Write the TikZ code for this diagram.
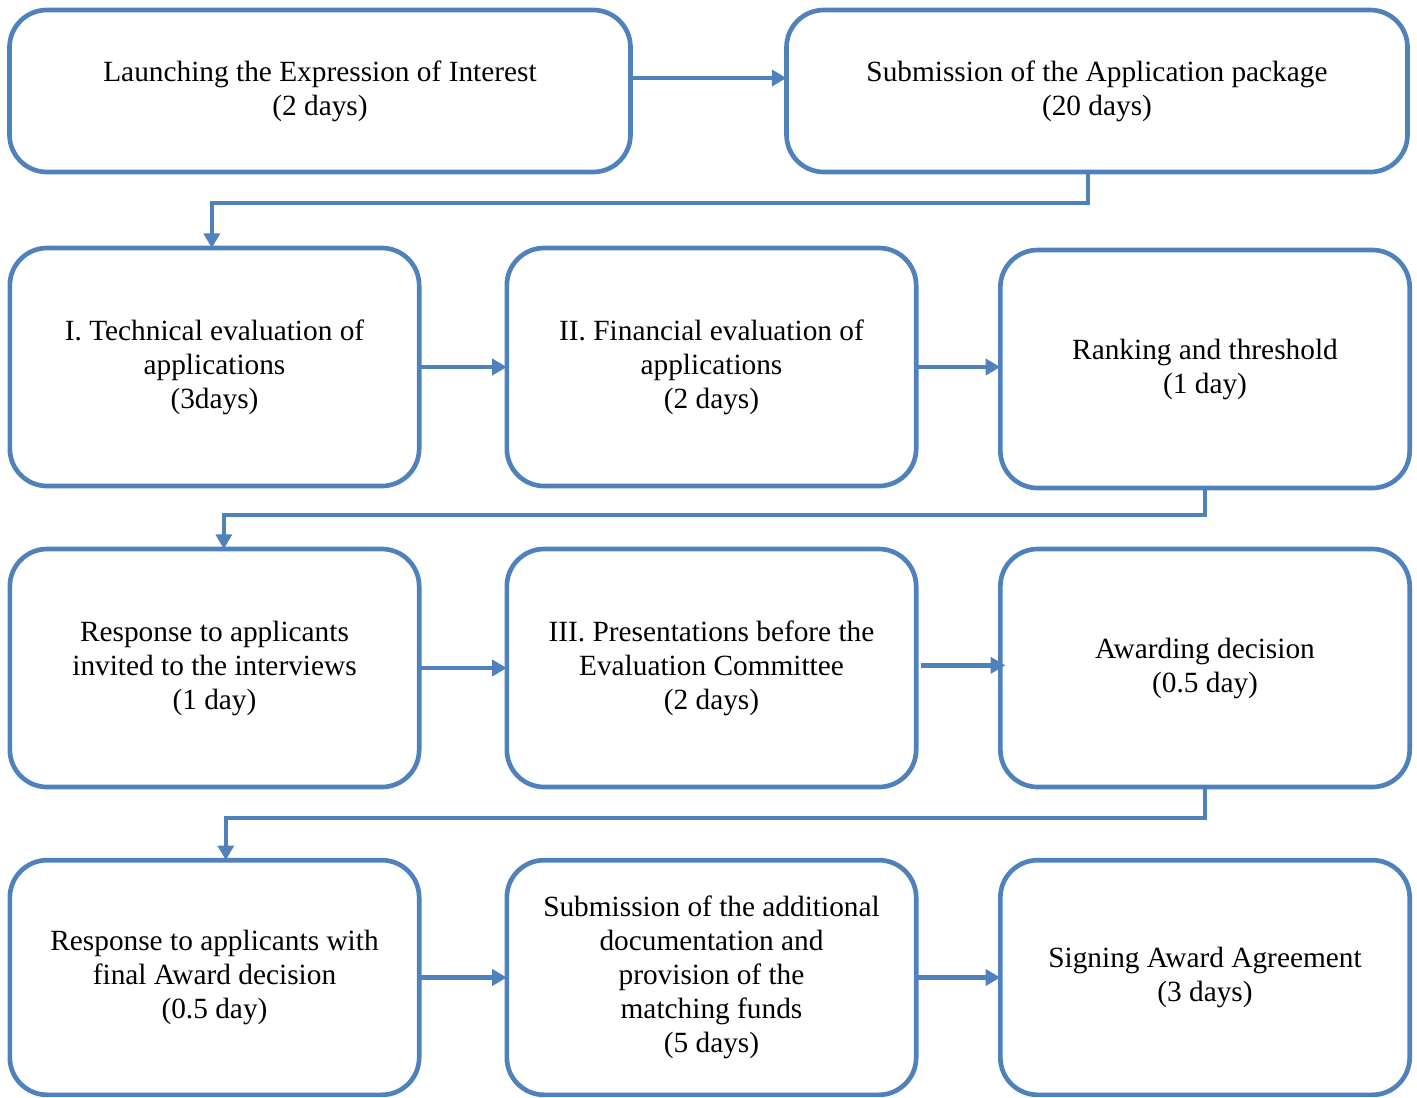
\documentclass[tikz,border=0pt]{standalone}
\usepackage{fontspec}
\setmainfont{Liberation Serif}
\usetikzlibrary{arrows.meta}
\definecolor{boxblue}{RGB}{79,129,189}

\begin{document}
\begin{tikzpicture}[x=0.75pt,y=0.75pt,yscale=-1,
  stepbox/.style={draw=boxblue,line width=3.5pt,rounded corners=28pt,inner sep=0pt,outer sep=0pt,
    align=center,font=\fontsize{22}{25.5}\selectfont},
  headbox/.style={stepbox,minimum width=465.75pt,minimum height=121.5pt},
  rowbox/.style={stepbox,minimum width=307pt,minimum height=178.5pt},
  lastbox/.style={stepbox,minimum width=307pt,minimum height=176pt},
  flow/.style={draw=boxblue,line width=3.5pt,-{Triangle[length=11pt,width=12pt]}}]

\useasboundingbox (0,0) rectangle (1417,1097);

% first row
\node[headbox] (launch) at (320,91) {Launching the Expression of Interest\\(2 days)};
\node[headbox] (submit) at (1097,91) {Submission of the Application package\\(20 days)};

% second row
\node[rowbox] (tech) at (214.5,367) {I. Technical evaluation of\\applications\\(3days)};
\node[rowbox] (finance) at (711.5,367) {II. Financial evaluation of\\applications\\(2 days)};
\node[rowbox] (ranking) at (1205,369) {Ranking and threshold\\(1 day)};

% third row
\node[rowbox] (invite) at (214.5,668) {Response to applicants\\invited to the interviews\\(1 day)};
\node[rowbox] (present) at (711.5,668) {III. Presentations before the\\Evaluation Committee\\(2 days)};
\node[rowbox] (award) at (1205,668) {Awarding decision\\(0.5 day)};

% last row
\node[lastbox] (final) at (214.5,977.5) {Response to applicants with\\final Award decision\\(0.5 day)};
\node[lastbox] (docs) at (711.5,977.5) {Submission of the additional\\documentation and\\provision of the\\matching funds\\(5 days)};
\node[lastbox] (signing) at (1205,977.5) {Signing Award Agreement\\(3 days)};

% arrows
\draw[flow] ([yshift=-9.75pt]launch.east) -- ([yshift=-9.75pt]submit.west);
\draw[flow] ([xshift=-6.75pt]submit.south) -- ++(0,31) -| ([xshift=-2pt]tech.north);

\draw[flow] (tech.east) -- (finance.west);
\draw[flow] (finance.east) -- (finance.east -| ranking.west);
\draw[flow] (ranking.south) -- ++(0,27) -| ([xshift=7pt]invite.north);

\draw[flow] (invite.east) -- (present.west);
\draw[flow] ([xshift=3.75pt,yshift=-2pt]present.east) -- ([xshift=3.75pt,yshift=-2pt]award.west);
\draw[flow] (award.south) -- ++(0,31) -| ([xshift=8.5pt]final.north);

\draw[flow] (final.east) -- (docs.west);
\draw[flow] (docs.east) -- (signing.west);

\end{tikzpicture}
\end{document}
